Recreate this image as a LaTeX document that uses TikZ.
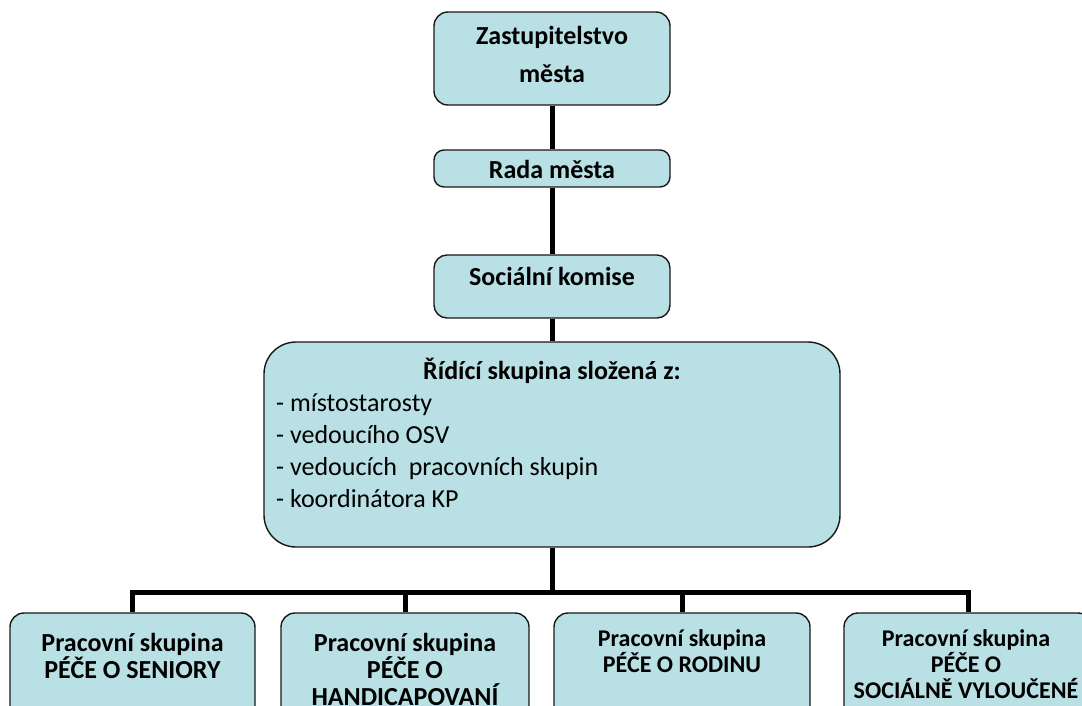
\documentclass[tikz,border=0pt]{standalone}
\usepackage{fontspec}
\setmainfont{Carlito}
\definecolor{boxfill}{RGB}{185,224,228}
\definecolor{boxline}{RGB}{25,25,25}
\begin{document}
\begin{tikzpicture}[x=1pt,y=-1pt,
  box/.style={draw=boxline, line width=1.4pt, fill=boxfill, rounded corners=14pt, inner sep=0pt},
  conn/.style={line width=5pt, black},
  lbl/.style={font=\fontsize{26}{38}\selectfont\bfseries, align=center, inner sep=0pt},
  lblb/.style={font=\fontsize{26}{27}\selectfont\bfseries, align=center, inner sep=0pt},
  lbls/.style={font=\fontsize{24}{26}\selectfont\bfseries, align=center, inner sep=0pt},
  lst/.style={font=\fontsize{26}{32}\selectfont, align=left, inner sep=0pt}
]
\useasboundingbox (0,0) rectangle (1082,705);
\clip (0,0) rectangle (1082,705);
% boxes
\node[box, minimum width=236pt, minimum height=93pt] (zast) at (552,58.5) {};
\node[box, minimum width=236pt, minimum height=37pt, rounded corners=10pt] (rada) at (552,168.5) {};
\node[box, minimum width=236pt, minimum height=63pt, rounded corners=13pt] (soc) at (552,286.5) {};
\node[box, minimum width=576pt, minimum height=205pt, rounded corners=32pt] (rid) at (552,444.5) {};
\node[box, minimum width=245pt, minimum height=120pt] (b1) at (132.5,673) {};
\node[box, minimum width=248pt, minimum height=120pt] (b2) at (405,673) {};
\node[box, minimum width=256pt, minimum height=120pt] (b3) at (682,673) {};
\node[box, minimum width=248pt, minimum height=120pt] (b4) at (968,673) {};
% texts
\node[lbl] (zastT) at (552,54) {Zastupitelstvo\\města};
\node[lbl] (radaT) at (552,169) {Rada města};
\node[lbl] (socT) at (552,276) {Sociální komise};
\node[lbl] (ridT) at (552,371) {Řídící skupina složená z:};
\node[lst, anchor=west] (ridL) at (276,451) {- místostarosty\\- vedoucího OSV\\- vedoucích\ \ pracovních skupin\\- koordinátora KP};
\node[lblb] (b1T) at (132.5,656) {Pracovní skupina\\PÉČE O SENIORY};
\node[lblb] (b2T) at (405,669) {Pracovní skupina\\PÉČE O\\HANDICAPOVANÍ};
\node[lbls] (b3T) at (682,651) {Pracovní skupina\\PÉČE O RODINU};
\node[lbls] (b4T) at (966,664) {Pracovní skupina\\PÉČE O\\SOCIÁLNĚ VYLOUČENÉ};
% connectors
\coordinate (bus) at (552,592.5);
\draw[conn] (zast.south) -- (rada.north);
\draw[conn] (rada.south) -- (soc.north);
\draw[conn] (soc.south) -- (rid.north);
\draw[conn] (rid.south) -- (bus);
\draw[conn, line join=miter] (b1.north) |- (bus) -| (b4.north);
\draw[conn] (b2.north) -- (b2.north |- bus);
\draw[conn] (b3.north) -- (b3.north |- bus);
\end{tikzpicture}
\end{document}
